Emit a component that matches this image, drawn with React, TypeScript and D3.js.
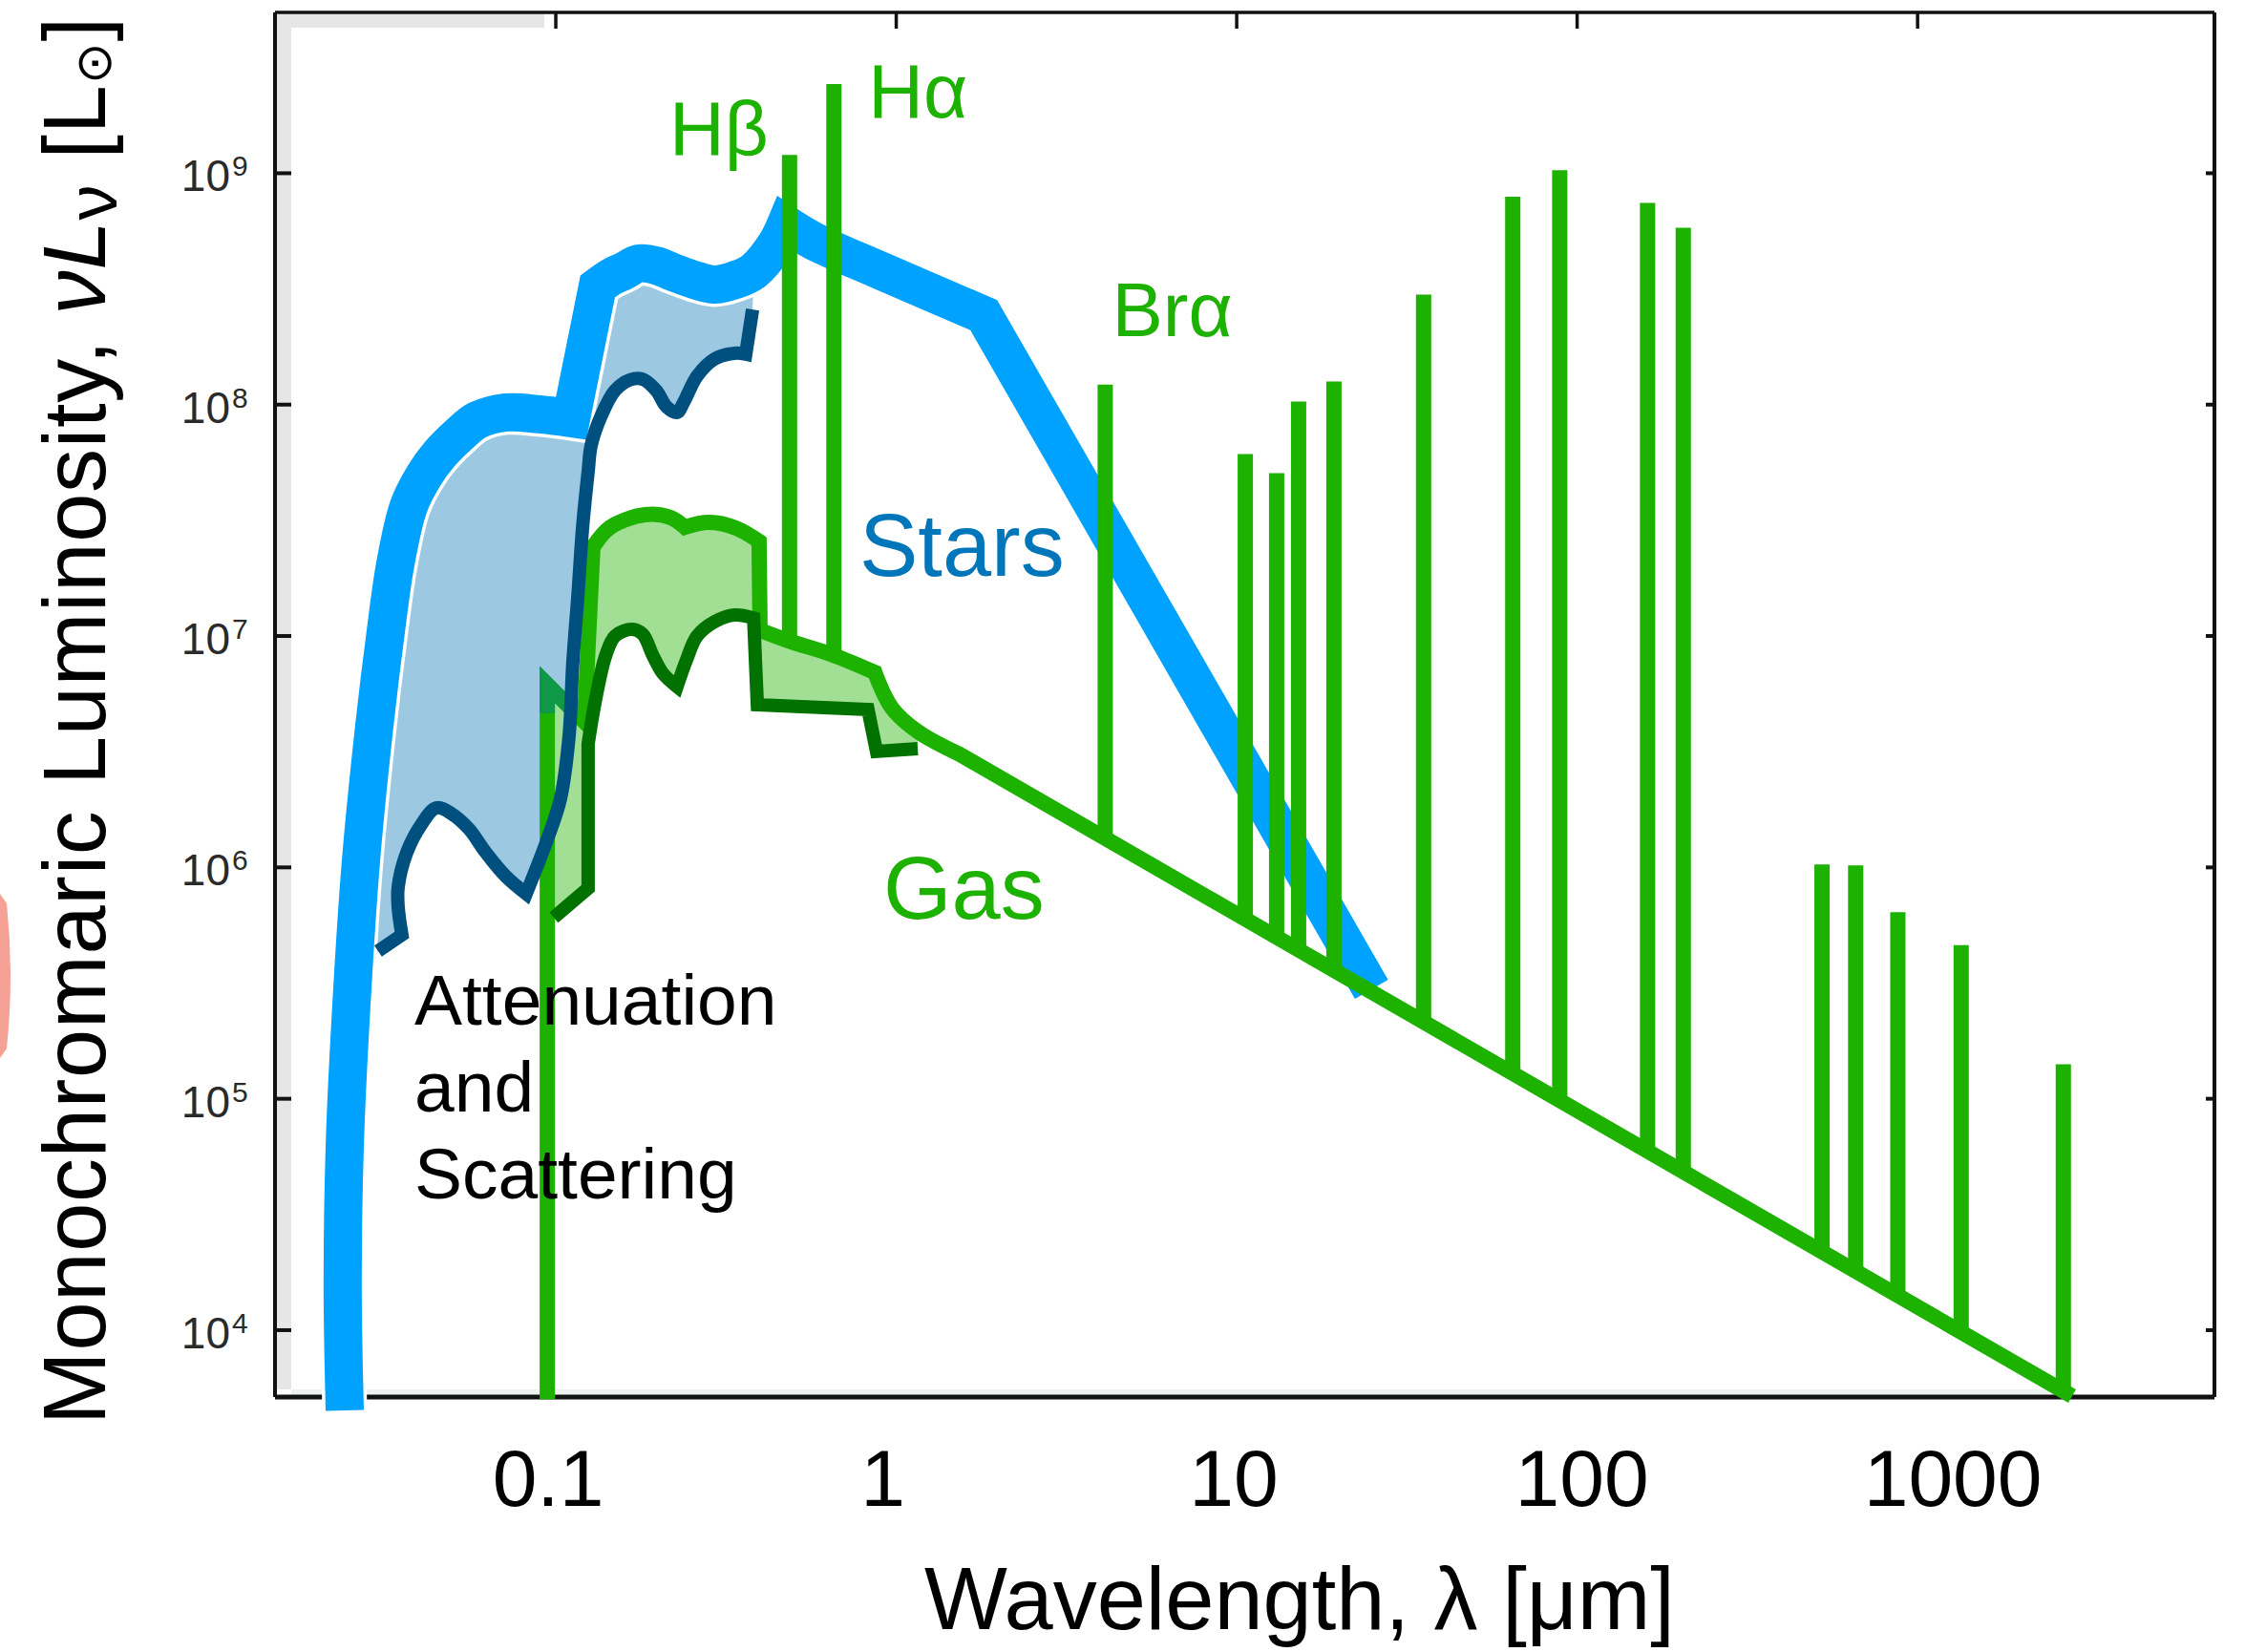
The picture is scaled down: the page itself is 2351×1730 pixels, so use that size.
import React from 'react';
import * as d3 from 'd3';

// ---------- axis extents (λ in μm, νLν in L☉) ----------
const lambdaExtent: [number, number] = [0.01497, 7447];
const lumExtent: [number, number] = [5140, 4.955e9];

const xTickValues = [0.1, 1, 10, 100, 1000];
const xTickLabels = ['0.1', '1', '10', '100', '1000'];
const yTickExponents = [4, 5, 6, 7, 8, 9];

// ---------- curves as log10(λ/μm), log10(νLν/L☉) ----------
// intrinsic stellar emission (thick blue)
const starsLogLam = [-1.620, -1.626, -1.620, -1.600, -1.572, -1.533, -1.499, -1.471, -1.432, -1.387, -1.342, -1.286, -1.230, -1.146, -1.048, -0.955, -0.877, -0.837, -0.801, -0.756, -0.705, -0.655, -0.593, -0.534, -0.473, -0.419, -0.352, -0.324, -0.245, -0.043, 0.257, 1.396];
const starsLogLum = [3.653, 4.177, 4.796, 5.415, 6.034, 6.612, 7.025, 7.314, 7.561, 7.693, 7.784, 7.867, 7.933, 7.966, 7.958, 7.941, 8.511, 8.552, 8.577, 8.610, 8.601, 8.572, 8.539, 8.519, 8.539, 8.577, 8.696, 8.779, 8.709, 8.577, 8.387, 5.473];
const starsCorners = [15, 16, 27, 30];

// attenuated stellar emission (dark blue)
const attenStarsLogLam = [-0.422, -0.442, -0.475, -0.534, -0.585, -0.624, -0.644, -0.675, -0.705, -0.745, -0.784, -0.826, -0.865, -0.896, -0.905, -0.921, -0.935, -0.950, -0.961, -0.986, -1.025, -1.087, -1.146, -1.205, -1.255, -1.306, -1.351, -1.396, -1.438, -1.463, -1.463, -1.452, -1.522];
const attenStarsLogLum = [8.411, 8.218, 8.222, 8.197, 8.123, 8.011, 7.966, 7.991, 8.061, 8.110, 8.106, 8.061, 7.957, 7.825, 7.710, 7.475, 7.177, 6.884, 6.567, 6.298, 6.121, 5.886, 5.960, 6.063, 6.166, 6.232, 6.257, 6.183, 6.063, 5.915, 5.828, 5.708, 5.638];
const attenStarsCorners = [1, 21, 31];

// intrinsic gas emission (green), Lyman edge to radio continuum
const gasLogLam = [-1.025, -1.025, -0.916, -0.891, -0.840, -0.739, -0.663, -0.621, -0.551, -0.470, -0.403, -0.400, -0.316, -0.184, -0.063, -0.013, 0.063, 0.187, 3.454];
const gasLogLum = [3.702, 6.790, 6.629, 7.384, 7.470, 7.524, 7.512, 7.470, 7.491, 7.466, 7.409, 7.025, 6.979, 6.917, 6.843, 6.690, 6.587, 6.488, 3.715];
const gasCorners = [1, 2, 3, 7, 10, 11, 14, 17];

// attenuated gas emission (dark green)
const attenGasLogLam = [-1.006, -0.905, -0.905, -0.885, -0.854, -0.826, -0.776, -0.745, -0.714, -0.686, -0.644, -0.616, -0.585, -0.534, -0.475, -0.419, -0.408, -0.083, -0.058, 0.063];
const attenGasLogLum = [5.783, 5.910, 6.534, 6.711, 6.913, 7.000, 7.029, 7.008, 6.913, 6.839, 6.781, 6.897, 7.000, 7.062, 7.091, 7.078, 6.703, 6.682, 6.501, 6.513];
const attenGasCorners = [1, 2, 10, 15, 16, 17, 18];

// emission lines: wavelength (μm) and peak νLν (L☉)
const lineLambda = [0.486, 0.656, 4.11, 10.6, 13.1, 15.2, 19.3, 35.4, 64.7, 88.9, 161, 205, 524, 658, 875, 1343, 2680];
const linePeak = [1.20e9, 2.43e9, 1.22e8, 6.12e7, 5.06e7, 1.03e8, 1.26e8, 2.99e8, 7.91e8, 1.03e9, 7.45e8, 5.81e8, 1.03e6, 1.02e6, 6.41e5, 4.61e5, 1.41e5];
const lineNames = ['Hβ', 'Hα', 'Brα'];

const C = {
  blue: '#00A2FF',
  blueFill: '#9DC8E2',
  darkBlue: '#00507F',
  green: '#1DB100',
  greenFill: '#A1DF95',
  darkGreen: '#017100',
  teal: '#0F9848',
  starsText: '#0076BA',
};

const FONT = "'Liberation Sans', Arial, Helvetica, sans-serif";

type Pt = [number, number];

export default function App() {
  const x = d3.scaleLog().domain(lambdaExtent).range([288, 2319]);
  const y = d3.scaleLog().domain(lumExtent).range([1463, 13]);
  const px = (l: number) => x(Math.pow(10, l));
  const py = (l: number) => y(Math.pow(10, l));
  const gen = d3.line<Pt>().x(d => px(d[0])).y(d => py(d[1])).curve(d3.curveCatmullRom.alpha(0.5));

  // smooth curve through the points, kept sharp at the corner indices
  const curvePath = (pts: Pt[], corners: number[], cont = false): string => {
    const inner = corners.filter(c => c > 0 && c < pts.length - 1).sort((a, b) => a - b);
    const cuts = [0, ...inner, pts.length - 1];
    let d = '';
    for (let k = 0; k < cuts.length - 1; k++) {
      const seg = gen(pts.slice(cuts[k], cuts[k + 1] + 1)) || '';
      if (k === 0) d += cont ? seg.replace(/^M/, 'L') : seg;
      else d += seg.replace(/^M[^A-Za-z]*/, '');
    }
    return d;
  };
  const shift = (corners: number[], a: number) => corners.map(c => c - a);
  const flip = (corners: number[], n: number) => corners.map(c => n - 1 - c);

  const stars = d3.zip(starsLogLam, starsLogLum) as Pt[];
  const attenStars = d3.zip(attenStarsLogLam, attenStarsLogLum) as Pt[];
  const gas = d3.zip(gasLogLam, gasLogLum) as Pt[];
  const attenGas = d3.zip(attenGasLogLam, attenGasLogLum) as Pt[];

  const starsD = curvePath(stars, starsCorners);
  const attenStarsD = curvePath(attenStars, attenStarsCorners);
  const gasD = curvePath(gas, gasCorners);
  const attenGasD = curvePath(attenGas, attenGasCorners);

  const starsFillD =
    curvePath(stars.slice(3, 26), shift(starsCorners, 3)) +
    curvePath(attenStars, attenStarsCorners, true) + 'Z';
  const gasFillD =
    `M${px(gasLogLam[0])},${py(attenGasLogLum[0])}` +
    curvePath(gas.slice(1, 17), shift(gasCorners, 1), true) +
    curvePath(attenGas.slice().reverse(), flip(attenGasCorners, attenGas.length), true) + 'Z';

  // gas continuum under the emission lines
  const cont = d3.scaleLinear().domain(gasLogLam.slice(11)).range(gasLogLum.slice(11));

  const [x0, x1] = x.range();
  const [yb, yt] = y.range();

  const xLabelDx = [-8, -14, -3, 5, 37];
  const labelPos: Record<string, { dx: number; dy: number; anchor: string }> = {
    'Hβ': { dx: -22, dy: 0, anchor: 'end' },
    'Hα': { dx: 36, dy: 35, anchor: 'start' },
    'Brα': { dx: 7, dy: -51, anchor: 'start' },
  };

  return (
    <svg
      width={2351}
      height={1730}
      style={{ position: 'absolute', left: 0, top: 0, background: '#fff' }}
      fontFamily={FONT}
    >
      <defs>
        <clipPath id="lymanTop">
          <rect x={555} y={688} width={37} height={59} />
        </clipPath>
      </defs>
      <rect x={0} y={0} width={2351} height={1730} fill="#fff" />
      {/* pink fragment at the left edge */}
      <path d="M0,936 L7,946 Q15,1022 7,1098 L0,1108 Z" fill="#F5A196" />

      {/* scan artefacts: grey strips inside the frame */}
      <rect x={x0 + 2} y={yt + 2} width={15} height={yb - yt - 10} fill="#e6e6e6" />
      <rect x={x0 + 2} y={yt + 2} width={280} height={14} fill="#e6e6e6" />
      <rect x={x0 + 17} y={yb - 8} width={1840} height={6} fill="#eef2ee" />

      {/* frame */}
      <line x1={x0} x2={x1} y1={yt} y2={yt} stroke="#111" strokeWidth={3.5} />
      <line x1={x0} x2={x1} y1={yb} y2={yb} stroke="#111" strokeWidth={5} />
      <line x1={x0} x2={x0} y1={yt} y2={yb} stroke="#111" strokeWidth={4} />
      <line x1={x1} x2={x1} y1={yt} y2={yb} stroke="#111" strokeWidth={4} />

      {/* ticks */}
      {xTickValues.map(v => (
        <line key={'xt' + v} x1={x(v)} x2={x(v)} y1={yt} y2={yt + 17} stroke="#111" strokeWidth={3.5} />
      ))}
      {yTickExponents.map(e => (
        <g key={'yt' + e}>
          <line x1={x0} x2={x0 + 17} y1={y(Math.pow(10, e))} y2={y(Math.pow(10, e))} stroke="#111" strokeWidth={4} />
          <line x1={x1 - 9} x2={x1} y1={y(Math.pow(10, e))} y2={y(Math.pow(10, e))} stroke="#111" strokeWidth={4} />
        </g>
      ))}

      {/* tick labels */}
      {yTickExponents.map(e => {
        const yy = y(Math.pow(10, e));
        return (
          <g key={'yl' + e} fill="#2a2a2a">
            <text x={241} y={yy + 19} fontSize={46} textAnchor="end">10</text>
            <text x={243} y={yy + 3} fontSize={30} textAnchor="start">{e}</text>
          </g>
        );
      })}
      {xTickValues.map((v, i) => (
        <text key={'xl' + v} x={x(v) + xLabelDx[i]} y={1577} fontSize={84} textAnchor="middle" fill="#000">
          {xTickLabels[i]}
        </text>
      ))}

      {/* axis titles */}
      <text x={1361} y={1706} fontSize={92} textAnchor="middle" fill="#000">
        Wavelength, λ [μm]
      </text>
      <text
        transform="translate(110,755) rotate(-90)"
        fontSize={92}
        textAnchor="middle"
        fill="#000"
        textLength={1474}
      >
        Monochromaric Luminosity,{' '}
        <tspan fontStyle="italic">νL</tspan>
        <tspan fontSize={74} dy={12}>ν</tspan>
        <tspan dy={-12}> [L</tspan>
        <tspan fontSize={52} dy={6}>⊙</tspan>
        <tspan dy={-6}>]</tspan>
      </text>

      {/* stellar fill between intrinsic and attenuated */}
      <path d={starsFillD} fill={C.blueFill} stroke="none" />
      {/* intrinsic stars */}
      <path d={starsD} fill="none" stroke="#fff" strokeWidth={47} strokeLinejoin="miter" strokeMiterlimit={3} />
      <path d={starsD} fill="none" stroke={C.blue} strokeWidth={40} strokeLinejoin="miter" strokeMiterlimit={3} />

      {/* gas fill */}
      <path d={gasFillD} fill={C.greenFill} stroke="none" />
      {/* intrinsic gas */}
      <path d={gasD} fill="none" stroke={C.green} strokeWidth={16} strokeLinejoin="miter" strokeMiterlimit={4} />
      <path d={gasD} fill="none" stroke={C.teal} strokeWidth={16} strokeLinejoin="miter" strokeMiterlimit={4} clipPath="url(#lymanTop)" />

      {/* emission lines */}
      {lineLambda.map((lam, i) => {
        const xx = x(lam);
        const yTop = y(linePeak[i]);
        const yBot = py(cont(Math.log10(lam)));
        return <line key={'el' + i} x1={xx} x2={xx} y1={yTop} y2={yBot} stroke={C.green} strokeWidth={16} />;
      })}

      {/* attenuated gas and stars */}
      <path d={attenGasD} fill="none" stroke={C.darkGreen} strokeWidth={14} strokeLinejoin="miter" />
      <path d={attenStarsD} fill="none" stroke={C.darkBlue} strokeWidth={14} strokeLinejoin="miter" />

      {/* line labels */}
      {lineNames.map((name, i) => {
        const p = labelPos[name];
        return (
          <text key={name} x={x(lineLambda[i]) + p.dx} y={y(linePeak[i]) + p.dy} fontSize={80} fill={C.green} textAnchor={p.anchor}>
            {name}
          </text>
        );
      })}

      {/* series labels */}
      <text x={900} y={603} fontSize={92} fill={C.starsText}>Stars</text>
      <text x={925} y={962} fontSize={92} fill={C.green}>Gas</text>
      <text fontSize={75} fill="#000">
        <tspan x={434} y={1073}>Attenuation</tspan>
        <tspan x={434} y={1164}>and</tspan>
        <tspan x={434} y={1255}>Scattering</tspan>
      </text>
    </svg>
  );
}
